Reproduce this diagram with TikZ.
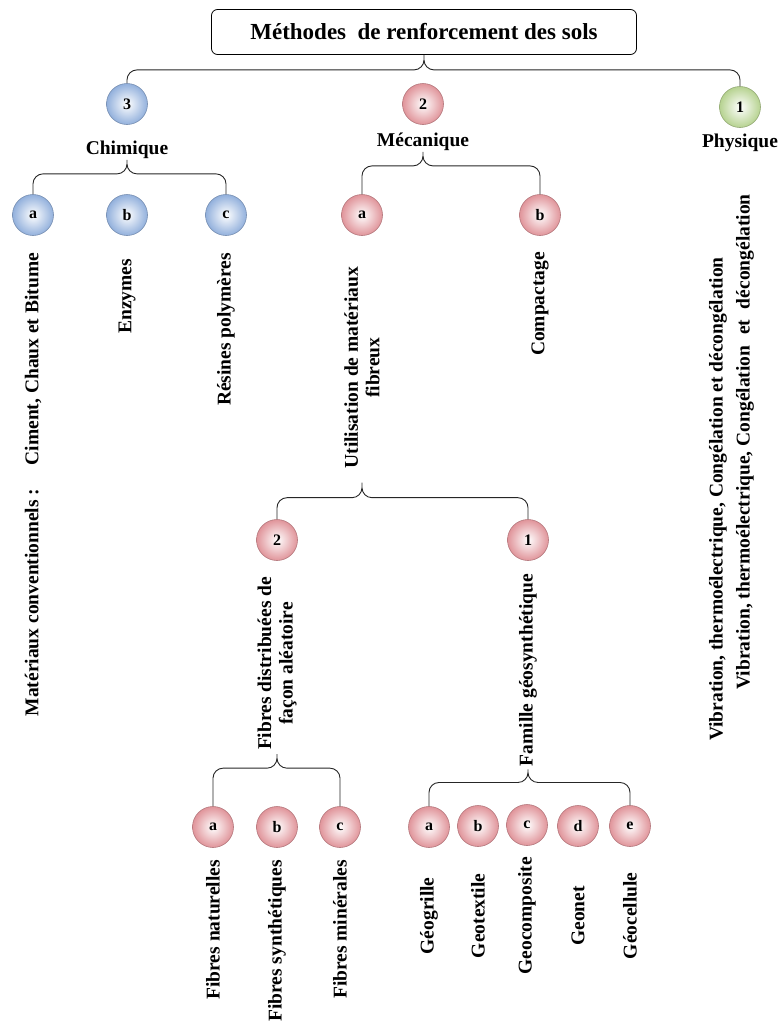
\documentclass[tikz,border=0pt]{standalone}
\usepackage{fontspec}
\setmainfont{Liberation Serif}
\usetikzlibrary{positioning,shapes.geometric}

\definecolor{cblue}{RGB}{146,176,220}
\definecolor{cpink}{RGB}{224,148,154}
\definecolor{cgreen}{RGB}{182,210,144}

\tikzset{
  num/.style={circle, minimum size=41pt, inner sep=0pt, draw=#1!80!black, line width=0.6pt,
    inner color=white, outer color=#1, font=\fontsize{16}{16}\selectfont\bfseries},
  lbl/.style={inner sep=1pt, font=\fontsize{19.5}{21}\selectfont\bfseries},
  vtxt/.style={rotate=90, inner sep=1pt, align=center, font=\fontsize{19.5}{21.5}\selectfont\bfseries},
  brace/.style={draw=black!85, line width=0.9pt, rounded corners=10pt}
}

\begin{document}
\begin{tikzpicture}[x=1pt, y=-1pt]
	\useasboundingbox (0,0) rectangle (782,1023);
	
	\node[draw, rounded corners=6pt, line width=0.8pt, minimum width=425pt, minimum height=45pt,
	  font=\fontsize{23}{26}\selectfont\bfseries] (titre) at (424,32) {Méthodes\ \ de renforcement des sols};
	
	% trois familles
	\node[num=cblue] (chim) at (127,104) {3};
	\node[num=cpink] (meca) at (423,104) {2};
	\node[num=cgreen] (phys) at (740,107) {1};
	\node[lbl, below=15pt of chim] (lchim) {Chimique};
	\node[lbl, below=7pt of meca] (lmeca) {Mécanique};
	\node[lbl, below=5pt of phys] (lphys) {Physique};
	
	% chimique
	\node[num=cblue] (ca) at (33,215) {a};
	\node[num=cblue] (cb) at (127,215) {b};
	\node[num=cblue] (cc) at (226,215) {c};
	\node[vtxt, anchor=east] (tca) at ([yshift=-16pt]ca.south) {Matériaux conventionnels :\hspace*{1.2em}Ciment, Chaux et Bitume};
	\node[vtxt, anchor=east] (tcb) at ([yshift=-22pt]cb.south) {Enzymes};
	\node[vtxt, anchor=east] (tcc) at ([yshift=-16pt]cc.south) {Résines polymères};
	
	% mecanique
	\node[num=cpink] (ma) at (362,215) {a};
	\node[num=cpink] (mb) at (540,215) {b};
	\node[vtxt, anchor=east] (tma) at ([yshift=-30pt]ma.south) {Utilisation de matériaux\\fibreux};
	\node[vtxt, anchor=east] (tmb) at ([yshift=-15pt]mb.south) {Compactage};
	
	\node[num=cpink] (f2) at (277,540) {2};
	\node[num=cpink] (f1) at (528,540) {1};
	\node[vtxt, anchor=east] (tf2) at ([yshift=-15pt]f2.south) {Fibres distribuées de\\façon aléatoire};
	\node[vtxt, anchor=east] (tf1) at ([yshift=-12pt]f1.south) {Famille géosynthétique};
	
	\node[num=cpink] (fa) at (213,827) {a};
	\node[num=cpink] (fb) at (277,827) {b};
	\node[num=cpink] (fc) at (340,827) {c};
	\node[vtxt, anchor=east] (tfa) at ([yshift=-11pt]fa.south) {Fibres naturelles};
	\node[vtxt, anchor=east] (tfb) at ([yshift=-11pt]fb.south) {Fibres synthétiques};
	\node[vtxt, anchor=east] (tfc) at ([yshift=-11pt]fc.south) {Fibres minérales};
	
	\node[num=cpink] (ga) at (429,827) {a};
	\node[num=cpink] (gb) at (478,826) {b};
	\node[num=cpink] (gc) at (527,825) {c};
	\node[num=cpink] (gd) at (578,826) {d};
	\node[num=cpink] (ge) at (630,826) {e};
	\node[vtxt] (tga) at ([yshift=-68pt]ga.south) {Géogrille};
	\node[vtxt] (tgb) at ([yshift=-69pt]gb.south) {Geotextile};
	\node[vtxt] (tgc) at ([yshift=-70pt]gc.south) {Geocomposite};
	\node[vtxt] (tgd) at ([yshift=-69pt]gd.south) {Geonet};
	\node[vtxt] (tge) at ([yshift=-69pt]ge.south) {Géocellule};
	
	% physique
	\node[vtxt, anchor=west] (tpa) at (718,742) {Vibration, thermoélectrique, Congélation et décongélation};
	\node[vtxt, anchor=east] (tpb) at (745,193) {Vibration, thermoélectrique, Congélation\hspace{0.3em} et\hspace{0.3em} décongélation};
	
	% accolades
	\draw[brace] (chim.north) |- ([yshift=-15pt]titre.south) -- (titre.south)
	             (phys.north) |- ([yshift=-15pt]titre.south) -- (titre.south);
	\draw[brace] (ca.north) |- ([yshift=-14pt]lchim.south) -- (lchim.south)
	             (cc.north) |- ([yshift=-14pt]lchim.south) -- (lchim.south);
	\draw[brace] (ma.north) |- ([yshift=-14pt]lmeca.south) -- (lmeca.south)
	             (mb.north) |- ([yshift=-14pt]lmeca.south) -- (lmeca.south);
	\draw[brace] (f2.north) |- ([yshift=-28pt]tma.west) -- ([yshift=-13pt]tma.west)
	             (f1.north) |- ([yshift=-28pt]tma.west) -- ([yshift=-13pt]tma.west);
	\draw[brace] (fa.north) |- ([yshift=-17pt]tf2.west) -- ([yshift=-3pt]tf2.west)
	             (fc.north) |- ([yshift=-17pt]tf2.west) -- ([yshift=-3pt]tf2.west);
	\draw[brace] (ga.north) |- ([yshift=-15pt]tf1.west) -- ([yshift=-2pt]tf1.west)
	             (ge.north) |- ([yshift=-15pt]tf1.west) -- ([yshift=-2pt]tf1.west);
\end{tikzpicture}
\end{document}
